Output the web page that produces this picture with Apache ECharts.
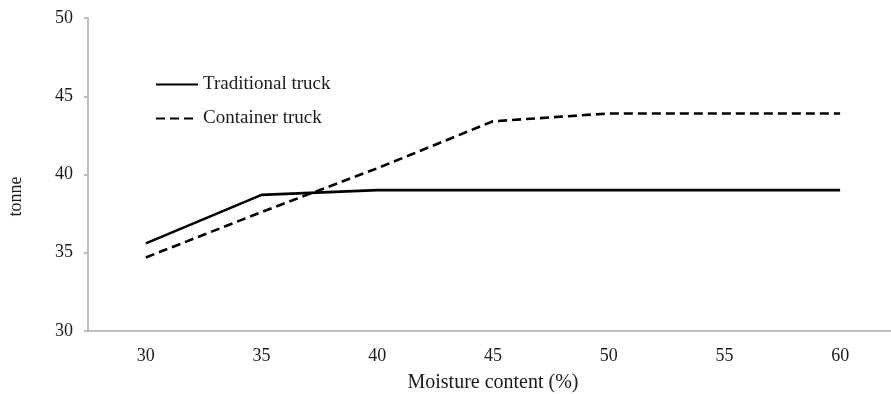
<!DOCTYPE html>
<html>
<head>
<meta charset="utf-8">
<script src="https://cdn.jsdelivr.net/npm/echarts@6/dist/echarts.min.js"></script>
<style>html,body{margin:0;padding:0;background:#fff;overflow:hidden;width:891px;height:394px;}#c{width:900px;height:394px;}</style>
</head>
<body>
<div id="c"></div>
<script>
const categories = ['30', '35', '40', '45', '50', '55', '60'];
const traditionalTruck = [35.6, 38.7, 39.0, 39.0, 39.0, 39.0, 39.0];
const containerTruck = [34.7, 37.6, 40.4, 43.4, 43.9, 43.9, 43.9];
const yTicks = [30, 35, 40, 45, 50];

const font = 'Liberation Serif, Times New Roman, serif';
const chart = echarts.init(document.getElementById('c'));
chart.setOption({
  animation: false,
  backgroundColor: '#fff',
  grid: { left: 88, right: 2, top: 18, bottom: 63, containLabel: false, outerBoundsMode: 'none' },
  legend: {
    orient: 'vertical',
    left: 150,
    top: 70,
    itemWidth: 42,
    itemHeight: 14,
    itemGap: 15,
    itemStyle: { opacity: 0 },
    textStyle: { fontFamily: font, fontSize: 19, color: '#1a1a1a' },
    data: ['Traditional truck', 'Container truck']
  },
  xAxis: {
    type: 'category',
    data: categories,
    boundaryGap: true,
    name: 'Moisture content (%)',
    nameLocation: 'middle',
    nameGap: 42,
    nameTextStyle: { fontFamily: font, fontSize: 20, color: '#1a1a1a' },
    axisLine: { lineStyle: { color: '#bdbdbd', width: 2 } },
    axisTick: { show: false },
    axisLabel: { fontFamily: font, fontSize: 18, color: '#1a1a1a', margin: 16 }
  },
  yAxis: {
    type: 'value',
    min: yTicks[0],
    max: yTicks[yTicks.length - 1],
    interval: 5,
    name: 'tonne',
    nameLocation: 'middle',
    nameGap: 63,
    nameRotate: 90,
    nameTextStyle: { fontFamily: font, fontSize: 18, color: '#1a1a1a', padding: [0, 44, 0, 0] },
    axisLine: { show: true, lineStyle: { color: '#bdbdbd', width: 2 } },
    axisTick: { show: true, length: 4, lineStyle: { color: '#bdbdbd', width: 2 } },
    splitLine: { show: false },
    axisLabel: { fontFamily: font, fontSize: 18, color: '#1a1a1a', margin: 15, padding: [4, 0, 0, 0] }
  },
  series: [
    {
      name: 'Traditional truck',
      type: 'line',
      data: traditionalTruck,
      symbol: 'none',
      lineStyle: { color: '#000', width: 2.6, type: 'solid' },
      itemStyle: { color: '#000' }
    },
    {
      name: 'Container truck',
      type: 'line',
      data: containerTruck,
      symbol: 'none',
      lineStyle: { color: '#000', width: 2.6, type: [9, 5] },
      itemStyle: { color: '#000' }
    }
  ]
});
</script>
</body>
</html>
